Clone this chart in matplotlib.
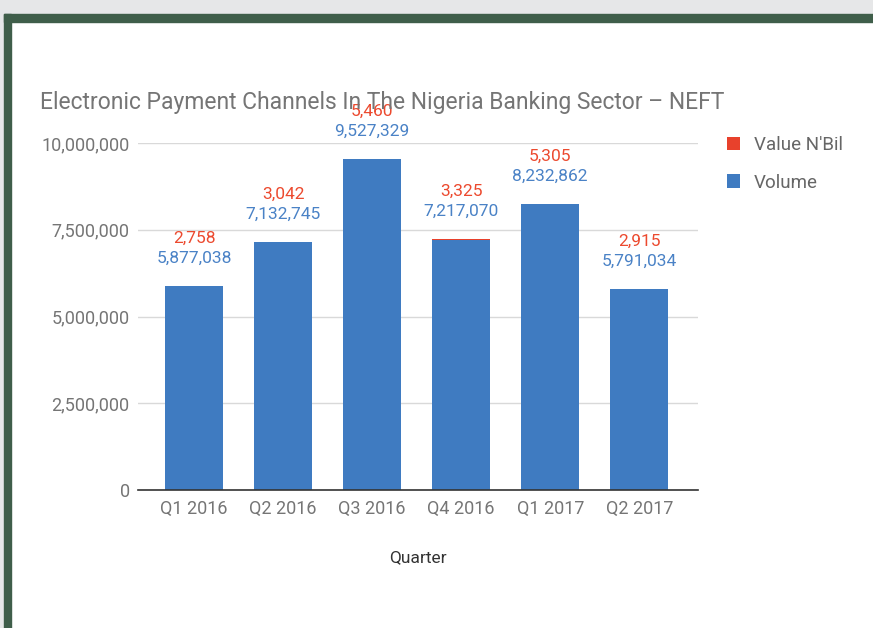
import matplotlib
matplotlib.use("Agg")
from matplotlib import pyplot as plt
from matplotlib.patches import Rectangle
import numpy as np

W, H = 873, 628
DPI = 100

quarters = ["Q1 2016", "Q2 2016", "Q3 2016", "Q4 2016", "Q1 2017", "Q2 2017"]
volume = [5877038, 7132745, 9527329, 7217070, 8232862, 5791034]
value_bil = [2758, 3042, 5460, 3325, 5305, 2915]

BLUE = "#3f7bc1"
RED = "#e8412c"
BLUE_TXT = "#4a82c6"
RED_TXT = "#ec4a2f"
GRAY_TXT = "#757575"

plt.rcParams["font.family"] = ["Roboto", "DejaVu Sans"]

fig = plt.figure(figsize=(W / DPI, H / DPI), dpi=DPI, facecolor="white")


def px_rect(x0, y0, x1, y1, color):
    # rectangle given in image pixels (origin top-left)
    fig.patches.append(Rectangle((x0 / W, 1 - y1 / H), (x1 - x0) / W, (y1 - y0) / H,
                                 transform=fig.transFigure, color=color, zorder=0))


px_rect(0, 0, W, 14, "#e6e7e8")
px_rect(0, 0, 4, H, "#e6e7e8")
px_rect(4, 14, W, 22, "#3f5e4a")
px_rect(4, 14, 11, H, "#3f5e4a")

ax = fig.add_axes([138 / W, 1 - 490 / H, (698 - 138) / W, (490 - 143) / H])
ax.set_facecolor("none")

x = np.arange(len(quarters))
ax.bar(x, volume, width=0.65, color=BLUE, zorder=2, label="Volume")
ax.bar(x, value_bil, width=0.65, bottom=volume, color=RED, zorder=2, label="Value N'Bil")

for xi, v, r in zip(x, volume, value_bil):
    top = v + r
    ax.annotate(f"{v:,}", (xi, top), xytext=(0, 28), textcoords="offset pixels",
                ha="center", va="center", fontsize=12.5, color=BLUE_TXT)
    ax.annotate(f"{r:,}", (xi, top), xytext=(0, 48), textcoords="offset pixels",
                ha="center", va="center", fontsize=12.5, color=RED_TXT)

ax.set_xlim(-0.63, 5.66)
ax.set_ylim(0, 10000000)
ax.set_yticks([0, 2500000, 5000000, 7500000, 10000000])
ax.yaxis.set_major_formatter(matplotlib.ticker.FuncFormatter(lambda v, p: f"{int(v):,}"))
ax.set_xticks(x)
ax.set_xticklabels(quarters)
ax.tick_params(axis="both", length=0, labelsize=13, labelcolor=GRAY_TXT)
ax.tick_params(axis="y", pad=6)
ax.tick_params(axis="x", pad=7)
ax.grid(axis="y", color="#d9d9d9", linewidth=1, zorder=0)
for s in ["top", "right", "left"]:
    ax.spines[s].set_visible(False)
ax.spines["bottom"].set_color("#333333")
ax.spines["bottom"].set_linewidth(1.2)
ax.spines["bottom"].set_zorder(3)

ax.set_xlabel("Quarter", fontsize=12.5, color="#333333", labelpad=23)

fig.text(40 / W, 1 - 102 / H, "Electronic Payment Channels In The Nigeria Banking Sector \u2013 NEFT",
         fontsize=16.5, color="#757575", ha="left", va="center")

handles, labels = ax.get_legend_handles_labels()
leg = fig.legend(handles[::-1], labels[::-1], loc="upper left",
                 bbox_to_anchor=(710 / W, 1 - 119 / H), frameon=False,
                 fontsize=13.5, labelcolor="#666666", handlelength=0.7, handleheight=0.7,
                 handletextpad=0.75, labelspacing=1.05)

fig.savefig("out.png", dpi=DPI, facecolor=fig.get_facecolor())
